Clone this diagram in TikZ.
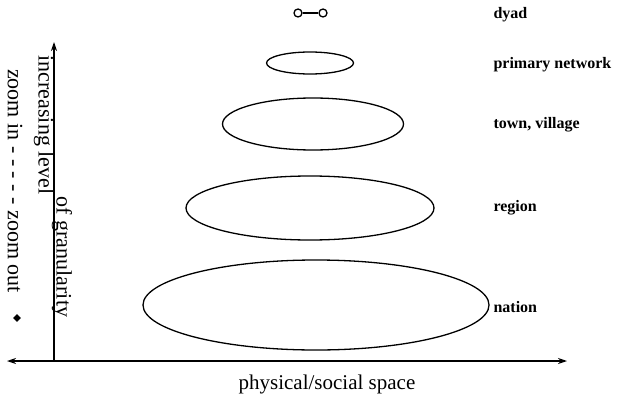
\documentclass[tikz,border=0pt]{standalone}
\usepackage{fontspec}
\setmainfont{Liberation Serif}
\usetikzlibrary{arrows.meta, positioning, shapes.geometric}

\begin{document}
\begin{tikzpicture}[x=1pt, y=1pt,
  level/.style={draw, ellipse, line width=1.3pt, inner sep=0pt},
  tag/.style={anchor=west, font=\bfseries\fontsize{16}{19}\selectfont},
  sidelabel/.style={rotate=-90, inner sep=0pt, font=\fontsize{22}{26}\selectfont},
  >={Stealth[length=9pt, width=6pt]}
]
  \useasboundingbox (0,0) rectangle (617,397);

  % nested levels
  \node[circle, draw, line width=1.3pt, minimum size=8pt, inner sep=0pt] (dyadA) at (298,384) {};
  \node[circle, draw, line width=1.3pt, minimum size=8pt, inner sep=0pt] (dyadB) at (323,384) {};
  \draw[line width=1.1pt] (dyadA) -- (dyadB);

  \node[level, minimum width=87pt, minimum height=22pt] (primary) at (310,334) {};
  \node[level, minimum width=181pt, minimum height=52pt] (town) at (313,273) {};
  \node[level, minimum width=248pt, minimum height=64pt] (region) at (310,189) {};
  \node[level, minimum width=346pt, minimum height=90pt] (nation) at (316,92) {};

  \node[tag] (dyadtag) at (490,382) {dyad};
  \node[tag] (primarytag) at (490,332) {primary network};
  \node[tag] (towntag) at (490,272) {town, village};
  \node[tag] (regiontag) at (490,189) {region};
  \node[tag] (nationtag) at (490,90) {nation};

  % axes
  \coordinate (left) at (7,36);
  \coordinate (right) at (567,36);
  \coordinate (origin) at (54,36);
  \coordinate (top) at (54,355);
  \draw[<->, line width=1.2pt] (left) -- (right);
  \draw[->, line width=1.2pt] (origin) -- (top);

  \node[font=\fontsize{21}{25}\selectfont] (space) at (327,13) {physical/social space};
  \node[sidelabel] (incr) at (44,272) {increasing level};
  \node[sidelabel] (gran) at (62,140) {of granularity};
  \node[sidelabel] (zoom) at (15,216) {zoom in - - - - - zoom out};
  \node[diamond, fill=black, minimum size=8pt, inner sep=0pt] (mark) at (17,79) {};
\end{tikzpicture}
\end{document}
